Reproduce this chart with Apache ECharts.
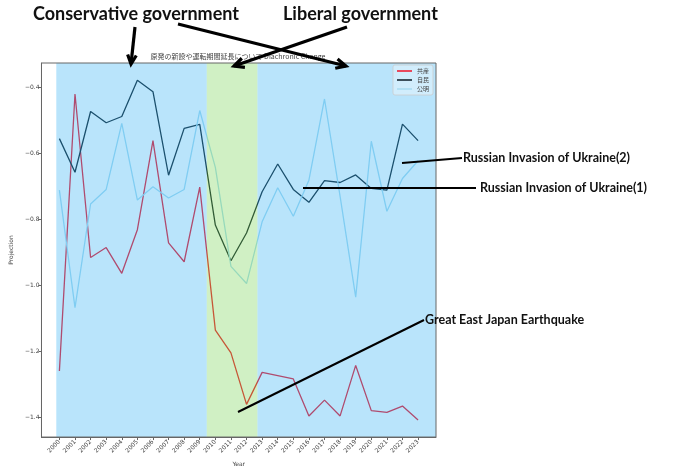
<!DOCTYPE html>
<html><head><meta charset="utf-8">
<script src="https://cdn.jsdelivr.net/npm/echarts@6/dist/echarts.min.js"></script>
<style>html,body{margin:0;padding:0;background:#fff}#c{width:678px;height:472px}</style>
</head><body><div id="c"></div>
<script>
const years = [2000,2001,2002,2003,2004,2005,2006,2007,2008,2009,2010,2011,2012,2013,2014,2015,2016,2017,2018,2019,2020,2021,2022,2023];
const kyosan = [-1.26,-0.421,-0.916,-0.886,-0.964,-0.832,-0.562,-0.872,-0.929,-0.703,-1.136,-1.205,-1.361,-1.264,-1.274,-1.284,-1.396,-1.348,-1.396,-1.243,-1.380,-1.385,-1.366,-1.408];
const jimin = [-0.556,-0.658,-0.474,-0.508,-0.489,-0.379,-0.414,-0.667,-0.525,-0.513,-0.818,-0.926,-0.842,-0.717,-0.633,-0.710,-0.749,-0.683,-0.689,-0.666,-0.707,-0.712,-0.512,-0.562];
const komei = [-0.712,-1.068,-0.754,-0.710,-0.510,-0.742,-0.702,-0.736,-0.710,-0.471,-0.643,-0.943,-0.995,-0.808,-0.705,-0.791,-0.682,-0.436,-0.731,-1.036,-0.564,-0.776,-0.677,-0.623];
const yTicks = [-0.4,-0.6,-0.8,-1.0,-1.2,-1.4];
const seriesNames = ['共産','自民','公明'];
const spans = [[1999.8,2009.45,'blue'],[2009.45,2012.7,'green'],[2012.7,2024.15,'blue']];

const chart = echarts.init(document.getElementById('c'), null, {renderer:'canvas'});
const pair = arr => arr.map((v,i)=>[years[i], v]);
const colors = ['#f01528','#0d1c26','#a8dcf2'];
const spanColor = {blue:'rgba(55,178,244,0.35)', green:'rgba(121,212,86,0.35)'};

function arrow(x1,y1,x2,y2,w,hl){
  const a = Math.atan2(y2-y1,x2-x1);
  const h1=[x2-hl*Math.cos(a-0.45), y2-hl*Math.sin(a-0.45)];
  const h2=[x2-hl*Math.cos(a+0.45), y2-hl*Math.sin(a+0.45)];
  return [
    {type:'line', z:100, shape:{x1,y1,x2,y2}, style:{stroke:'#000', lineWidth:w}},
    {type:'polyline', z:100, shape:{points:[h1,[x2,y2],h2]}, style:{stroke:'#000', lineWidth:w, fill:null, lineJoin:'miter'}}
  ];
}
const annFont = 'Lato';
const graphics = [
  {type:'text', z:100, left:33, top:5, style:{text:'Conservative government', font:'bold 18px '+annFont, fill:'#111'}},
  {type:'text', z:100, left:283, top:5, style:{text:'Liberal government', font:'bold 18px '+annFont, fill:'#111'}},
  ...arrow(135,27,131,64,3.2,10),
  ...arrow(178,24,346,66,3.2,11),
  ...arrow(347,27,234,66,3.2,11),
  {type:'line', z:100, shape:{x1:402,y1:163,x2:462,y2:158}, style:{stroke:'#000', lineWidth:2}},
  {type:'text', z:100, left:463, top:151, style:{text:'Russian Invasion of Ukraine(2)', font:'bold 12.5px '+annFont, fill:'#111'}},
  {type:'line', z:100, shape:{x1:303,y1:188,x2:476,y2:188}, style:{stroke:'#000', lineWidth:2}},
  {type:'text', z:100, left:480, top:181, style:{text:'Russian Invasion of Ukraine(1)', font:'bold 12.5px '+annFont, fill:'#111'}},
  {type:'line', z:100, shape:{x1:238,y1:412,x2:424,y2:320}, style:{stroke:'#000', lineWidth:2}},
  {type:'text', z:100, left:425, top:313, style:{text:'Great East Japan Earthquake', font:'bold 12.5px '+annFont, fill:'#111'}},
  {type:'text', z:90, x:238, y:53, style:{text:'原発の新設や運転期間延長について Diachronic Change', font:'7px "Noto Sans CJK JP"', fill:'#444', align:'center', textAlign:'center'}}
];

const option = {
  animation:false,
  grid:{left:41, right:242, top:63, bottom:25, show:true, borderColor:'#666', borderWidth:1, z:5},
  legend:{
    data:seriesNames, orient:'vertical', right:245, top:65, z:20,
    backgroundColor:'rgba(255,255,255,0.35)', borderColor:'#ccc', borderWidth:0.8, borderRadius:2,
    padding:[3,4,3,4], itemGap:3, itemWidth:15, itemHeight:1.5, icon:'rect',
    textStyle:{fontSize:6, color:'#444', fontFamily:'Noto Sans CJK JP'}
  },
  xAxis:{
    type:'value', min:1998.85, max:2024.15,
    name:'Year', nameLocation:'middle', nameGap:20, nameTextStyle:{fontSize:6, color:'#444', fontFamily:'DejaVu Sans'},
    axisLine:{show:true, onZero:false, lineStyle:{color:'#666', width:1}},
    axisTick:{show:true, customValues:years, length:3, lineStyle:{color:'#666'}},
    axisLabel:{customValues:years, rotate:45, fontSize:6, color:'#444', margin:4, fontFamily:'DejaVu Sans', formatter:v=>String(v)},
    splitLine:{show:false}
  },
  yAxis:{
    type:'value', min:-1.46, max:-0.327,
    name:'Projection', nameLocation:'middle', nameGap:21, nameTextStyle:{fontSize:6, color:'#444', fontFamily:'DejaVu Sans'},
    axisLine:{show:true, onZero:false, lineStyle:{color:'#666', width:1}},
    axisTick:{show:true, customValues:yTicks, length:3, lineStyle:{color:'#666'}},
    axisLabel:{customValues:yTicks, fontSize:6, color:'#444', margin:2, fontFamily:'DejaVu Sans', formatter:v=>(v<0?'\u2212':'')+Math.abs(v).toFixed(1)},
    splitLine:{show:false}
  },
  series:[
    {name:seriesNames[0], type:'line', data:pair(kyosan), symbol:'none', z:2, color:colors[0], lineStyle:{width:1.3, color:colors[0]}},
    {name:seriesNames[1], type:'line', data:pair(jimin), symbol:'none', z:2, color:colors[1], lineStyle:{width:1.3, color:colors[1]}},
    {name:seriesNames[2], type:'line', data:pair(komei), symbol:'none', z:2, color:colors[2], lineStyle:{width:1.3, color:colors[2]}},
    {name:'spans', type:'custom', z:3, silent:true, data:spans.map(s=>[s[0],s[1]]),
     renderItem:(params, api)=>{
       const s = spans[params.dataIndex];
       const p1 = api.coord([api.value(0), -0.327]);
       const p2 = api.coord([api.value(1), -1.46]);
       return {type:'rect', shape:{x:p1[0], y:p1[1], width:p2[0]-p1[0], height:p2[1]-p1[1]}, style:{fill:spanColor[s[2]]}};
     },
     encode:{x:[0,1]}}
  ],
  graphic:graphics
};
chart.setOption(option);
</script></body></html>
